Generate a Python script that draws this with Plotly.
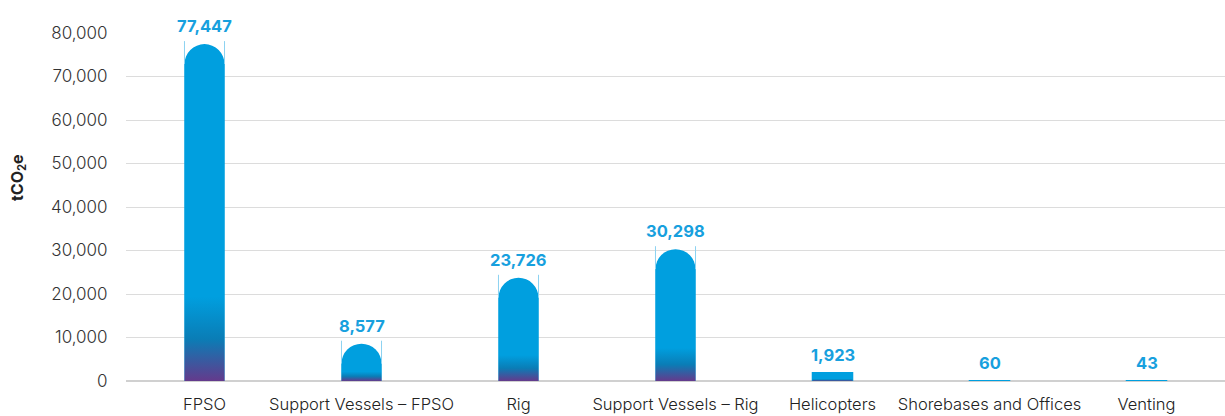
import plotly.graph_objects as go

categories = ["FPSO", "Support Vessels – FPSO", "Rig", "Support Vessels – Rig",
              "Helicopters", "Shorebases and Offices", "Venting"]
values = [77447, 8577, 23726, 30298, 1923, 60, 43]
value_labels = ["77,447", "8,577", "23,726", "30,298", "1,923", "60", "43"]
y_tickvals = [0, 10000, 20000, 30000, 40000, 50000, 60000, 70000, 80000]
y_ticktext = ["0", "10,000", "20,000", "30,000", "40,000", "50,000", "60,000", "70,000", "80,000"]

BLUE = "#009FDF"
LABEL_BLUE = "#17A0DE"
PURPLE = "#643A8C"
DARK = "#0A7DB6"
FONT = "Inter"

W, H = 1225, 416
M_L, M_R, M_T, M_B = 126, 0, 33, 35
Y_MAX = 80000
BAR_W = 0.255
plot_h = H - M_T - M_B
plot_w = W - M_L - M_R
units_per_px = Y_MAX / plot_h
px_per_cat = plot_w / len(categories)
radius_units = (BAR_W * px_per_cat / 2) * units_per_px

xs = list(range(len(categories)))
tall = [i for i in xs if values[i] > radius_units]
short = [i for i in xs if values[i] <= radius_units]

fig = go.Figure()

# rounded tall bars
fig.add_trace(go.Bar(
    x=[xs[i] for i in tall], y=[values[i] for i in tall], width=BAR_W,
    marker=dict(color=BLUE, cornerradius="50%", line=dict(width=0)),
    hoverinfo="skip", showlegend=False))
# flat short bars
fig.add_trace(go.Bar(
    x=[xs[i] for i in short], y=[values[i] for i in short], width=BAR_W,
    marker=dict(color=BLUE, line=dict(color=BLUE, width=1.5)),
    hoverinfo="skip", showlegend=False))

# gradient over the straight part of each bar (purple -> dark blue -> blue in bottom quarter)
for i in xs:
    v = values[i]
    top = v - radius_units if i in tall else v
    g_end = 0.25 * v
    f = min(1.0, g_end / top)
    cs = [[0, PURPLE], [0.5 * f, DARK], [f, BLUE]]
    if f < 1.0:
        cs.append([1, BLUE])
    fig.add_trace(go.Scatter(
        x=[i - BAR_W / 2, i + BAR_W / 2, i + BAR_W / 2, i - BAR_W / 2, i - BAR_W / 2],
        y=[0, 0, top, top, 0], mode="lines", line=dict(width=0, color=BLUE),
        fill="toself",
        fillgradient=dict(type="vertical", start=0, stop=top, colorscale=cs),
        hoverinfo="skip", showlegend=False))

# thin light edge lines at the rounded tops
for i in tall:
    v = values[i]
    for side in (-1, 1):
        xe = i + side * BAR_W / 2
        fig.add_trace(go.Scatter(
            x=[xe, xe], y=[v - radius_units * 0.95, v + radius_units * 0.15],
            mode="lines", line=dict(color="#8CD2F1", width=1),
            hoverinfo="skip", showlegend=False))

annotations = []
for i in xs:
    annotations.append(dict(
        x=i, y=values[i], xref="x", yref="y", text="<b>%s</b>" % value_labels[i],
        showarrow=False, yanchor="bottom", yshift=6,
        font=dict(family=FONT, size=16.5, color=LABEL_BLUE)))
annotations.append(dict(
    x=0, y=0.5, xref="paper", yref="paper", text="<b>tCO<sub>2</sub>e</b>",
    textangle=-90, showarrow=False, xanchor="center", yanchor="middle",
    xshift=-108, yshift=29, font=dict(family=FONT, size=16, color="#222")))

fig.update_layout(
    width=W, height=H, margin=dict(l=M_L, r=M_R, t=M_T, b=M_B),
    paper_bgcolor="white", plot_bgcolor="white", barmode="overlay",
    annotations=annotations, showlegend=False,
    xaxis=dict(range=[-0.5, len(categories) - 0.5], tickvals=xs, ticktext=categories,
               showgrid=False, zeroline=False, showline=False,
               ticks="outside", ticklen=8, tickcolor="rgba(0,0,0,0)",
               tickfont=dict(family=FONT, size=16.5, color="#222", weight=300)),
    yaxis=dict(range=[0, Y_MAX], tickvals=y_tickvals, ticktext=y_ticktext,
               showgrid=True, gridcolor="#DCDCDC", gridwidth=1,
               zeroline=True, zerolinecolor="#D0D0D0", zerolinewidth=2,
               showline=False, ticks="outside", ticklen=14, tickcolor="rgba(0,0,0,0)",
               tickfont=dict(family=FONT, size=17, color="#333", weight=300)),
)

fig.write_html("out.html")
